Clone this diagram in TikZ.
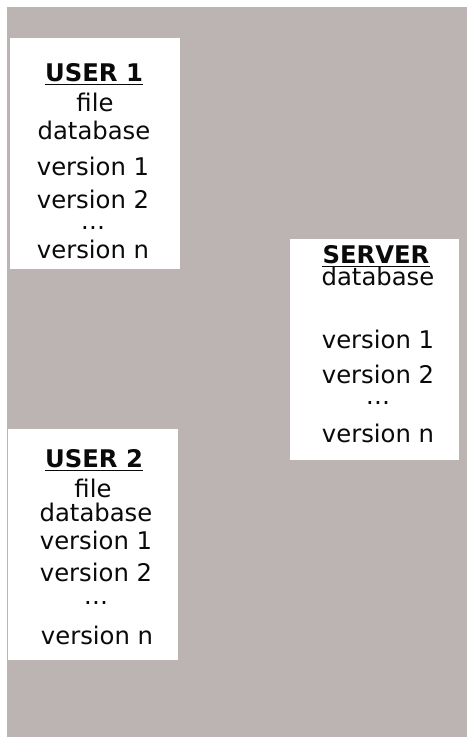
\documentclass[tikz,border=0pt]{standalone}
\usepackage{fontspec}
\setmainfont{DejaVu Sans}
\definecolor{bg}{RGB}{188,180,179}
\definecolor{ink}{RGB}{10,10,10}
\begin{document}
\begin{tikzpicture}[x=1pt,y=-1pt,
  txt/.style={anchor=base, inner sep=0pt, font=\fontsize{24.3}{24}\selectfont, text=ink},
  hdr/.style={txt, font=\fontsize{24.3}{24}\selectfont\bfseries},
  card/.style={fill=white, draw=none, anchor=north west, inner sep=0pt},
  uline/.style={draw=ink, line width=1.4pt}]
\useasboundingbox (0,0) rectangle (469,737);
\fill[bg] (7,7) rectangle (467,737);
% cards
\node[card, minimum width=170pt, minimum height=231pt] (u1) at (10,38) {};
\node[card, minimum width=169pt, minimum height=221pt] (srv) at (290,239) {};
\node[card, minimum width=170pt, minimum height=231pt] (u2) at (8,429) {};
% USER 1
\node[hdr] (u1h) at (94,81) {USER 1};
\draw[uline] ([yshift=-3.2pt]u1h.base west) -- ([yshift=-3.2pt]u1h.base east);
\node[txt] (u1a) at (95,111) {file};
\node[txt] (u1b) at (94,139) {database};
\node[txt] (u1c) at (93,175) {version 1};
\node[txt] (u1d) at (93,208) {version 2};
\node[txt] (u1e) at (93,229) {…};
\node[txt] (u1f) at (93,258) {version n};
% SERVER
\node[hdr] (sh) at (376,263) {SERVER};
\draw[uline] ([yshift=-3.2pt]sh.base west) -- ([yshift=-3.2pt]sh.base east);
\node[txt] (sb) at (378,285) {database};
\node[txt] (sc) at (378,348) {version 1};
\node[txt] (sd) at (378,383) {version 2};
\node[txt] (se) at (378,404) {…};
\node[txt] (sf) at (378,442) {version n};
% USER 2
\node[hdr] (u2h) at (94,467) {USER 2};
\draw[uline] ([yshift=-3.2pt]u2h.base west) -- ([yshift=-3.2pt]u2h.base east);
\node[txt] (u2a) at (93,497) {file};
\node[txt] (u2b) at (96,521) {database};
\node[txt] (u2c) at (96,549) {version 1};
\node[txt] (u2d) at (96,581) {version 2};
\node[txt] (u2e) at (96,604) {…};
\node[txt] (u2f) at (97,644) {version n};
\end{tikzpicture}
\end{document}
